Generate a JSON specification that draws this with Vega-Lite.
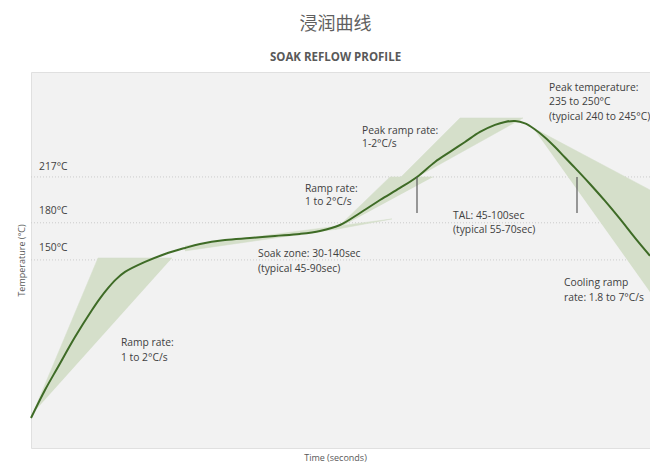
{
  "$schema": "https://vega.github.io/schema/vega-lite/v6.json",
  "width": 619,
  "height": 376,
  "autosize": {"type": "none"},
  "padding": {"left": 31, "top": 72, "right": 0, "bottom": 20},
  "background": "white",
  "title": {
    "text": "浸润曲线",
    "subtitle": "SOAK REFLOW PROFILE",
    "font": "Noto Sans CJK SC",
    "fontSize": 18,
    "fontWeight": "normal",
    "color": "#5f5f5f",
    "subtitleFont": "Open Sans",
    "subtitleFontSize": 11.5,
    "subtitleFontWeight": "bold",
    "subtitleColor": "#595959",
    "subtitlePadding": 18,
    "offset": 9,
    "anchor": "middle",
    "dx": -5
  },
  "config": {"view": {"fill": "#f2f2f2", "stroke": "#e0e0e0"}},
  "datasets": {
    "hlines": [
      {"t": 0, "t2": 619, "T": 217},
      {"t": 0, "t2": 619, "T": 180},
      {"t": 0, "t2": 619, "T": 150}
    ],
    "polys": [
      {"p": "ramp1", "i": 1, "t": 2, "T": 26.5},
      {"p": "ramp1", "i": 2, "t": 67, "T": 151.6},
      {"p": "ramp1", "i": 3, "t": 141, "T": 151.6},
      {"p": "soak", "i": 1, "t": 154, "T": 161.3},
      {"p": "soak", "i": 2, "t": 361, "T": 183.1},
      {"p": "soak", "i": 3, "t": 307, "T": 175.0},
      {"p": "soak", "i": 4, "t": 154, "T": 157.3},
      {"p": "ramp2", "i": 1, "t": 304, "T": 174.2},
      {"p": "ramp2", "i": 2, "t": 359, "T": 217.0},
      {"p": "ramp2", "i": 3, "t": 402, "T": 217.0},
      {"p": "peakramp", "i": 1, "t": 364, "T": 212.1},
      {"p": "peakramp", "i": 2, "t": 429, "T": 264.6},
      {"p": "peakramp", "i": 3, "t": 492, "T": 264.6},
      {"p": "peakramp", "i": 4, "t": 386, "T": 217.0},
      {"p": "cooling", "i": 1, "t": 502, "T": 256.6},
      {"p": "cooling", "i": 2, "t": 619, "T": 206.5},
      {"p": "cooling", "i": 3, "t": 619, "T": 124.2}
    ],
    "curve": [
      {"t": 0, "T": 22.4}, {"t": 14, "T": 45.0}, {"t": 27, "T": 63.6}, {"t": 44, "T": 87.8},
      {"t": 61, "T": 109.6}, {"t": 69, "T": 119.0}, {"t": 77, "T": 127.2}, {"t": 85, "T": 134.3},
      {"t": 94, "T": 140.3}, {"t": 114, "T": 148.4},
      {"t": 134, "T": 154.8}, {"t": 154, "T": 159.7}, {"t": 169, "T": 162.9}, {"t": 194, "T": 166.1},
      {"t": 219, "T": 167.7}, {"t": 244, "T": 169.4}, {"t": 269, "T": 171.0}, {"t": 289, "T": 173.4},
      {"t": 309, "T": 178.2}, {"t": 329, "T": 187.9}, {"t": 349, "T": 198.4}, {"t": 369, "T": 208.1},
      {"t": 386, "T": 217.0}, {"t": 404, "T": 229.1}, {"t": 419, "T": 237.2}, {"t": 434, "T": 245.2},
      {"t": 449, "T": 253.3}, {"t": 464, "T": 259.0}, {"t": 474, "T": 261.4}, {"t": 484, "T": 262.2},
      {"t": 494, "T": 260.2}, {"t": 504, "T": 255.3}, {"t": 514, "T": 248.9}, {"t": 524, "T": 241.2},
      {"t": 534, "T": 232.7}, {"t": 544, "T": 224.3}, {"t": 559, "T": 211.3}, {"t": 574, "T": 197.6},
      {"t": 589, "T": 183.1}, {"t": 604, "T": 167.8}, {"t": 619, "T": 153.3}
    ],
    "tal": [
      {"t": 386, "T": 217, "T2": 187.9},
      {"t": 546, "T": 217, "T2": 187.9}
    ],
    "labels": [
      {"t": 90, "T": 82.6, "label": "Ramp rate:"},
      {"t": 90, "T": 70.9, "label": "1 to 2°C/s"},
      {"t": 227, "T": 154.6, "label": "Soak zone: 30-140sec"},
      {"t": 227, "T": 142.5, "label": "(typical 45-90sec)"},
      {"t": 274, "T": 207.3, "label": "Ramp rate:"},
      {"t": 274, "T": 197.0, "label": "1 to 2°C/s"},
      {"t": 331, "T": 254.4, "label": "Peak ramp rate:"},
      {"t": 331, "T": 243.4, "label": "1-2°C/s"},
      {"t": 518, "T": 288.6, "label": "Peak temperature:"},
      {"t": 518, "T": 277.3, "label": "235 to 250°C"},
      {"t": 518, "T": 265.7, "label": "(typical 240 to 245°C)"},
      {"t": 422, "T": 185.5, "label": "TAL: 45-100sec"},
      {"t": 422, "T": 173.8, "label": "(typical 55-70sec)"},
      {"t": 533, "T": 131.2, "label": "Cooling ramp"},
      {"t": 533, "T": 119.1, "label": "rate: 1.8 to 7°C/s"},
      {"t": 8, "T": 225.3, "label": "217°C"},
      {"t": 8, "T": 189.5, "label": "180°C"},
      {"t": 8, "T": 159.9, "label": "150°C"}
    ]
  },
  "encoding": {
    "x": {
      "field": "t",
      "type": "quantitative",
      "scale": {"domain": [0, 619], "nice": false, "zero": false},
      "axis": {
        "title": "Time (seconds)",
        "labels": false,
        "ticks": false,
        "domain": false,
        "grid": false,
        "titleFont": "Open Sans",
        "titleFontSize": 9,
        "titleFontWeight": "normal",
        "titleColor": "#595959",
        "titlePadding": 5,
        "titleX": 304
      }
    },
    "y": {
      "field": "T",
      "type": "quantitative",
      "scale": {"domain": [-1.8, 301.7], "nice": false, "zero": false},
      "axis": {
        "title": "Temperature (°C)",
        "labels": false,
        "ticks": false,
        "domain": false,
        "grid": false,
        "titleFont": "Open Sans",
        "titleFontSize": 9,
        "titleFontWeight": "normal",
        "titleColor": "#595959",
        "titlePadding": 5
      }
    }
  },
  "layer": [
    {
      "data": {"name": "hlines"},
      "mark": {"type": "rule", "color": "#cccccc", "strokeWidth": 1, "strokeDash": [1, 2]},
      "encoding": {"x2": {"field": "t2"}}
    },
    {
      "data": {"name": "polys"},
      "mark": {"type": "line", "fill": "#d5dfca", "stroke": "#d5dfca", "strokeWidth": 0.5, "interpolate": "linear"},
      "encoding": {
        "detail": {"field": "p"},
        "order": {"field": "i", "type": "quantitative"}
      }
    },
    {
      "data": {"name": "curve"},
      "mark": {"type": "line", "color": "#3e6b26", "strokeWidth": 2, "interpolate": "catmull-rom"},
      "encoding": {}
    },
    {
      "data": {"name": "tal"},
      "mark": {"type": "rule", "color": "#595959", "strokeWidth": 1.2},
      "encoding": {"y2": {"field": "T2"}}
    },
    {
      "data": {"name": "labels"},
      "mark": {"type": "text", "align": "left", "baseline": "middle", "font": "Open Sans", "fontSize": 10.3, "color": "#404040"},
      "encoding": {"text": {"field": "label"}}
    }
  ]
}
